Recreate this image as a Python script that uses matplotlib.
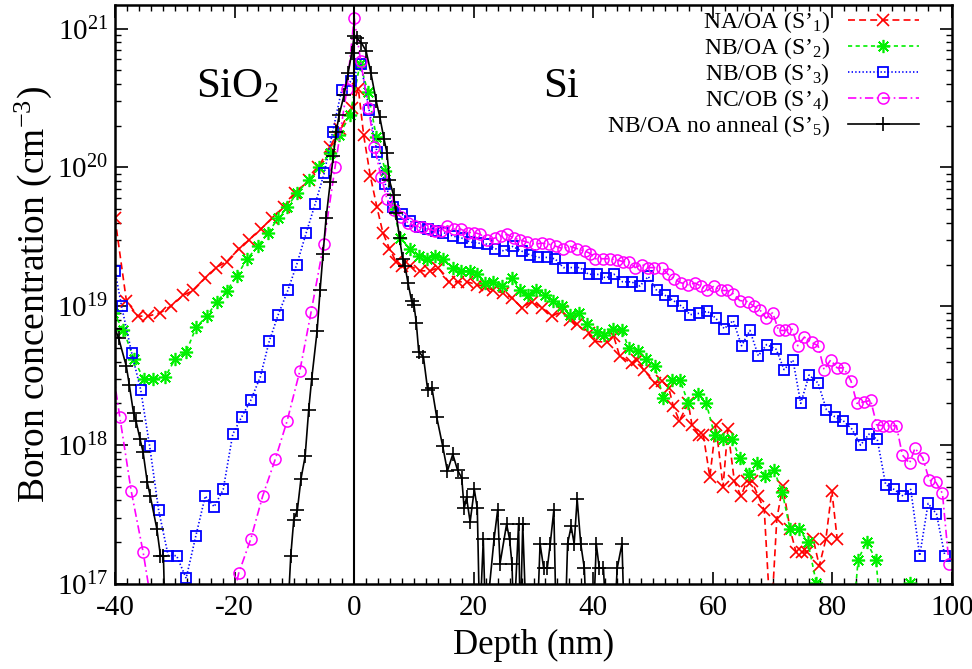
import numpy as np
import matplotlib
matplotlib.use("Agg")
import matplotlib.pyplot as plt
from matplotlib.ticker import LogLocator, MultipleLocator, NullFormatter

plt.rcParams['font.family'] = ['Liberation Serif', 'DejaVu Serif']
plt.rcParams['mathtext.fontset'] = 'custom'
plt.rcParams['mathtext.rm'] = 'Liberation Serif'
plt.rcParams['mathtext.it'] = 'Liberation Serif:italic'
plt.rcParams['mathtext.bf'] = 'Liberation Serif:bold'
plt.rcParams['axes.unicode_minus'] = False
plt.rcParams['lines.scale_dashes'] = False

# (depth nm, boron concentration cm^-3)
na_oa = [(-40.0, 4.3e19), (-38.1, 1.1e19), (-36.2, 8.5e18), (-34.4, 8.5e18), (-32.4, 9.0e18),
         (-30.7, 1.0e19), (-28.6, 1.2e19), (-26.9, 1.3e19), (-24.9, 1.6e19), (-23.1, 1.9e19),
         (-21.3, 2.1e19), (-19.3, 2.6e19), (-17.6, 3.0e19), (-15.6, 3.6e19), (-13.7, 4.3e19),
         (-11.8, 5.2e19), (-9.9, 6.5e19), (-7.6, 8.1e19), (-6.0, 1.0e20), (-4.1, 1.4e20),
         (-2.3, 1.9e20), (-0.4, 2.7e20), (0.7, 3.7e20), (1.6, 1.7e20), (2.7, 8.7e19),
         (3.8, 5.2e19), (4.8, 3.4e19), (5.9, 2.6e19), (7.0, 2.1e19), (8.0, 1.95e19),
         (9.4, 1.95e19), (11.0, 1.8e19), (12.7, 1.8e19), (14.1, 1.9e19), (15.8, 1.5e19),
         (17.4, 1.5e19), (18.9, 1.5e19), (20.6, 1.43e19), (21.9, 1.38e19), (23.3, 1.3e19),
         (24.9, 1.25e19), (26.4, 1.15e19), (28.0, 9.8e18), (29.7, 1.08e19), (31.4, 9.8e18),
         (33.1, 8.5e18), (34.7, 9.2e18), (36.1, 8.0e18), (37.2, 7.4e18), (39.2, 6.4e18),
         (40.3, 5.6e18), (42.3, 5.5e18), (43.4, 6.1e18), (44.4, 4.4e18), (46.4, 3.9e18),
         (47.3, 4.1e18), (48.4, 3.5e18), (50.3, 2.8e18), (51.5, 2.9e18), (52.6, 2.6e18),
         (53.4, 1.9e18), (54.4, 1.5e18), (55.9, 2.0e18), (56.5, 1.4e18), (57.6, 1.18e18),
         (58.4, 1.18e18), (59.5, 5.9e17), (60.5, 1.4e18), (61.7, 5.0e17), (62.5, 1.3e18),
         (63.6, 5.5e17), (64.7, 4.3e17), (65.7, 5.5e17), (66.5, 5.5e17), (67.6, 4.3e17),
         (68.6, 3.4e17), (69.7, 5e16), (70.7, 2.95e17), (71.7, 5.1e17), (72.9, 2.5e17),
         (73.9, 1.7e17), (74.9, 1.7e17), (75.7, 1.7e17), (76.8, 2.1e17), (77.8, 1.35e17),
         (78.9, 2.1e17), (79.9, 4.7e17), (80.8, 2.1e17)]

nb_oa = [(-40.3, 9.0e18), (-38.6, 6.8e18), (-36.9, 4.2e18), (-35.2, 3.0e18), (-33.6, 3.0e18),
         (-31.6, 3.1e18), (-29.9, 4.2e18), (-28.1, 4.7e18), (-26.4, 7.1e18), (-24.6, 8.5e18),
         (-23.0, 1.08e19), (-21.3, 1.29e19), (-19.6, 1.66e19), (-17.9, 2.2e19), (-16.1, 2.7e19),
         (-14.4, 3.4e19), (-12.7, 4.3e19), (-11.2, 5.2e19), (-9.5, 6.6e19), (-7.6, 8.1e19),
         (-5.8, 1.0e20), (-4.0, 1.27e20), (-2.5, 1.7e20), (-0.7, 2.4e20), (1.0, 5.6e20),
         (2.3, 3.5e20), (3.7, 1.67e20), (5.2, 9.5e19), (6.6, 5.0e19), (7.7, 3.1e19),
         (9.3, 2.6e19), (10.8, 2.3e19), (12.2, 2.2e19), (13.5, 2.3e19), (14.9, 2.2e19),
         (16.5, 1.9e19), (17.9, 1.8e19), (19.3, 1.8e19), (20.6, 1.7e19), (21.9, 1.48e19),
         (23.3, 1.5e19), (24.7, 1.4e19), (26.4, 1.6e19), (27.8, 1.3e19), (29.1, 1.2e19),
         (30.4, 1.3e19), (31.9, 1.2e19), (33.3, 1.1e19), (34.7, 1.0e19), (36.1, 8.7e18),
         (37.6, 9.0e18), (39.0, 7.4e18), (40.6, 6.5e18), (41.8, 6.2e18), (43.3, 6.9e18),
         (44.8, 6.8e18), (45.9, 5.0e18), (47.4, 4.8e18), (48.9, 4.2e18), (50.3, 3.7e18),
         (51.7, 2.2e18), (53.1, 2.95e18), (54.5, 2.95e18), (55.9, 2.0e18), (57.5, 2.35e18),
         (58.9, 2.0e18), (60.3, 1.18e18), (61.7, 1.1e18), (63.2, 1.1e18), (64.5, 8.1e17),
         (66.1, 6.2e17), (67.3, 7.4e17), (68.8, 6.0e17), (70.2, 6.6e17), (71.6, 4.6e17),
         (72.9, 2.5e17), (74.4, 2.5e17), (75.9, 2.0e17), (77.3, 1.02e17), (78.7, 3e16),
         (81.5, 3e16), (82.9, 3e16), (84.3, 1.5e17), (85.7, 2.0e17), (87.3, 1.5e17),
         (88.6, 3e16), (91.5, 3e16), (92.9, 1.02e17), (94.3, 3e16), (99.0, 3e16)]

nb_ob = [(-40.0, 1.8e19), (-38.9, 1.0e19), (-37.2, 4.6e18), (-35.7, 2.5e18), (-34.2, 9.8e17),
         (-32.7, 3.4e17), (-31.1, 1.6e17), (-29.7, 1.6e17), (-28.1, 1.1e17), (-26.5, 2.2e17),
         (-24.9, 4.3e17), (-23.4, 3.6e17), (-21.9, 4.8e17), (-20.3, 1.2e18), (-18.8, 1.6e18),
         (-17.3, 2.1e18), (-15.7, 3.1e18), (-14.2, 5.6e18), (-12.7, 8.7e18), (-11.1, 1.3e19),
         (-9.6, 2.0e19), (-8.0, 3.4e19), (-6.5, 5.5e19), (-5.0, 9.1e19), (-3.6, 1.8e20),
         (-2.1, 3.6e20), (-0.5, 4.2e20), (1.1, 5.6e20), (2.5, 2.6e20), (3.8, 1.3e20),
         (5.2, 7.6e19), (6.5, 5.2e19), (8.0, 4.6e19), (9.4, 4.1e19), (11.0, 3.7e19),
         (12.4, 3.6e19), (13.7, 3.5e19), (14.9, 3.4e19), (16.6, 3.2e19), (18.0, 3.1e19),
         (19.4, 2.9e19), (20.8, 2.85e19), (22.2, 2.8e19), (23.6, 2.6e19), (25.1, 2.5e19),
         (26.5, 2.7e19), (28.0, 2.5e19), (29.4, 2.35e19), (30.8, 2.25e19), (32.2, 2.25e19),
         (33.6, 2.2e19), (35.0, 1.9e19), (36.4, 1.9e19), (37.8, 1.9e19), (39.2, 1.7e19),
         (40.7, 1.7e19), (42.1, 1.6e19), (43.5, 1.7e19), (44.9, 1.5e19), (46.4, 1.5e19),
         (47.8, 1.4e19), (49.2, 1.64e19), (50.6, 1.3e19), (52.0, 1.2e19), (53.4, 1.1e19),
         (54.8, 1.0e19), (56.2, 8.7e18), (57.7, 8.9e18), (59.1, 9.2e18), (60.5, 8.2e18),
         (61.9, 6.9e18), (63.4, 7.9e18), (64.8, 5.2e18), (66.2, 6.7e18), (67.6, 4.4e18),
         (69.0, 5.3e18), (70.6, 4.9e18), (71.9, 3.5e18), (73.4, 4.1e18), (74.7, 2.0e18),
         (76.1, 3.2e18), (77.6, 2.8e18), (79.0, 1.8e18), (80.4, 1.6e18), (81.8, 1.5e18),
         (83.3, 1.3e18), (84.7, 1.0e18), (86.1, 1.2e18), (87.5, 1.1e18), (88.9, 5.2e17),
         (90.3, 4.8e17), (91.8, 4.3e17), (93.1, 4.8e17), (94.6, 1.6e17), (96.0, 3.8e17),
         (97.4, 3.2e17), (98.8, 1.6e17)]

nc_ob = [(-41.1, 5.6e18), (-39.2, 1.6e18), (-37.3, 4.7e17), (-35.3, 1.7e17), (-33.3, 5e16),
         (-21.3, 5e16), (-19.3, 1.2e17), (-17.3, 2.1e17), (-15.3, 4.3e17), (-13.2, 7.9e17),
         (-11.2, 1.5e18), (-9.1, 3.4e18), (-7.2, 9.1e18), (-5.1, 2.8e19), (-3.2, 1.0e20),
         (-1.2, 3.7e20), (0.0, 1.2e21), (1.1, 5.8e20), (2.4, 2.7e20), (3.4, 1.4e20),
         (4.5, 8.6e19), (5.5, 5.9e19), (6.6, 4.9e19), (7.8, 4.4e19), (9.0, 4.0e19),
         (10.2, 3.8e19), (11.4, 3.7e19), (12.5, 3.6e19), (13.5, 3.5e19), (14.6, 3.5e19),
         (15.6, 3.8e19), (16.7, 3.6e19), (17.8, 3.6e19), (19.0, 3.4e19), (20.1, 3.4e19),
         (21.1, 3.3e19), (22.3, 3.0e19), (23.5, 3.1e19), (24.6, 3.2e19), (25.6, 3.3e19),
         (26.7, 3.1e19), (27.8, 3.0e19), (28.9, 2.9e19), (30.2, 2.8e19), (31.4, 2.85e19),
         (32.6, 2.8e19), (33.8, 2.7e19), (34.9, 2.6e19), (36.1, 2.7e19), (37.3, 2.6e19),
         (38.6, 2.5e19), (39.5, 2.4e19), (40.3, 2.2e19), (41.6, 2.2e19), (42.8, 2.2e19),
         (43.9, 2.16e19), (45.0, 2.1e19), (45.9, 2.1e19), (47.0, 1.9e19), (48.1, 2.0e19),
         (49.2, 1.9e19), (50.2, 1.9e19), (51.5, 1.9e19), (52.5, 1.7e19), (53.5, 1.58e19),
         (54.6, 1.48e19), (55.9, 1.43e19), (57.0, 1.47e19), (58.0, 1.4e19), (59.1, 1.3e19),
         (60.2, 1.4e19), (61.3, 1.3e19), (62.4, 1.3e19), (63.4, 1.23e19), (64.5, 1.1e19),
         (65.8, 1.08e19), (66.9, 1.0e19), (67.9, 9.4e18), (68.9, 8.2e18), (70.0, 9.0e18),
         (71.0, 6.7e18), (72.1, 6.7e18), (73.2, 6.9e18), (74.2, 5.2e18), (75.3, 6.0e18),
         (76.5, 5.5e18), (77.6, 5.2e18), (78.6, 3.5e18), (79.7, 4.1e18), (80.8, 3.6e18),
         (81.9, 3.6e18), (83.1, 2.9e18), (84.1, 2.0e18), (85.3, 2.05e18), (86.4, 2.1e18),
         (87.4, 1.4e18), (88.5, 1.38e18), (89.5, 1.38e18), (90.7, 1.38e18), (91.7, 8.5e17),
         (92.9, 7.4e17), (93.8, 9.5e17), (95.1, 8.1e17), (96.2, 5.6e17), (97.3, 5.4e17),
         (98.4, 4.5e17), (99.5, 1.4e17)]

no_anneal = [(-40.0, 6.9e18), (-39.4, 5.9e18), (-38.1, 3.7e18), (-37.6, 2.7e18), (-36.9, 1.7e18),
             (-36.5, 1.5e18), (-35.8, 1.1e18), (-35.3, 8.9e17), (-34.6, 5.4e17), (-34.1, 4.3e17),
             (-33.0, 2.5e17), (-32.4, 1.6e17), (-31.9, 1.6e17), (-31.6, 5e16), (-11.2, 5e16),
             (-10.6, 1.6e17), (-10.1, 2.9e17), (-9.5, 3.4e17), (-8.9, 5.7e17), (-8.2, 8.3e17),
             (-7.6, 1.8e18), (-7.1, 3.0e18), (-6.2, 6.6e18), (-5.7, 1.3e19), (-5.2, 2.4e19),
             (-4.7, 4.3e19), (-4.0, 7.8e19), (-3.5, 1.2e20), (-3.0, 1.8e20), (-2.5, 2.4e20),
             (-1.7, 3.3e20), (-1.0, 4.8e20), (-0.4, 6.7e20), (0.0, 8.8e20), (0.5, 8.5e20),
             (1.2, 7.9e20), (2.0, 6.9e20), (2.8, 4.8e20), (3.7, 3.0e20), (4.3, 2.3e20),
             (5.0, 1.6e20), (5.5, 1.27e20), (5.9, 8.1e19), (6.6, 6.3e19), (7.0, 4.7e19),
             (7.6, 3.1e19), (8.1, 2.2e19), (8.5, 1.95e19), (9.0, 1.48e19), (9.6, 1.1e19),
             (10.0, 1.03e19), (10.4, 7.6e18), (10.8, 4.7e18), (11.6, 4.3e18), (12.3, 2.5e18),
             (13.0, 2.6e18), (13.8, 1.6e18), (14.8, 9.9e17), (15.6, 6.5e17), (16.5, 8.6e17),
             (17.3, 6.6e17), (18.0, 5.8e17), (18.4, 3.5e17), (18.8, 4.2e17), (19.4, 2.8e17),
             (20.1, 4.8e17), (20.6, 3.5e17), (21.0, 5e16), (21.6, 2.1e17), (22.0, 5e16),
             (23.4, 2.1e17), (24.0, 3.4e17), (24.4, 1.4e17), (25.5, 2.7e17), (26.0, 2.1e17),
             (26.4, 1.4e17), (26.7, 5e16), (27.5, 2.7e17), (27.8, 5e16), (28.2, 2.7e17),
             (28.8, 5e16), (30.6, 5e16), (31.1, 1.95e17), (31.7, 1.3e17), (32.3, 1.3e17),
             (32.8, 1.95e17), (33.4, 3.4e17), (33.8, 5e16), (35.3, 5e16), (35.7, 1.95e17),
             (36.3, 2.6e17), (36.8, 1.95e17), (37.3, 4.1e17), (37.9, 1.95e17), (38.5, 1.3e17),
             (38.9, 5e16), (40.0, 5e16), (40.5, 1.95e17), (41.0, 1.3e17), (41.7, 1.3e17),
             (42.2, 5e16), (43.5, 5e16), (44.0, 1.3e17), (44.8, 1.95e17), (45.2, 5e16)]

labels = ["NA/OA (S\u2019$_1$)", "NB/OA (S\u2019$_2$)", "NB/OB (S\u2019$_3$)",
          "NC/OB (S\u2019$_4$)", "NB/OA no anneal (S\u2019$_5$)"]

fig = plt.figure(figsize=(9.72, 6.69), dpi=100)
ax = fig.add_axes([115 / 972, 1 - 584 / 669, (952 - 115) / 972, (584 - 5) / 669])

series = [
    (na_oa, '#ff0000', (5, 3), dict(marker='x', ms=8.5, mew=1.2, mfc='none')),
    (nb_oa, '#00f000', (3, 2.5), dict(marker=(8, 2, 0), ms=9.5, mew=1.2)),
    (nb_ob, '#0000ff', (1, 1.6), dict(marker='s', ms=7.5, mew=1.3, mfc='none')),
    (nc_ob, '#ff00ff', (6, 2.5, 1.2, 2.5), dict(marker='o', ms=8, mew=1.1, mfc='none')),
    (no_anneal, '#000000', None, dict(marker='+', ms=10, mew=1.2)),
]

for (data, color, dash, mk), lab in zip(series, labels):
    d = np.array(data)
    line, = ax.plot(d[:, 0], d[:, 1], color=color, lw=1.2, label=lab, **mk)
    if dash is not None:
        line.set_dashes(dash)

ax.axvline(0, color='black', lw=1.5)

ax.set_yscale('log')
ax.set_xlim(-40, 100)
ax.set_ylim(1e17, 10 ** 21.17)

ax.xaxis.set_major_locator(MultipleLocator(20))
ax.xaxis.set_minor_locator(MultipleLocator(2))
ax.yaxis.set_major_locator(LogLocator(base=10))
ax.yaxis.set_minor_locator(LogLocator(base=10, subs=np.arange(2, 10)))
ax.yaxis.set_minor_formatter(NullFormatter())
ax.tick_params(which='both', direction='in', top=True, right=True, labelsize=21)
ax.tick_params(which='major', length=9, width=1.2)
ax.tick_params(which='minor', length=4.5, width=1.0)
ax.tick_params(axis='x', pad=8)
ax.tick_params(axis='y', pad=5)
for s in ax.spines.values():
    s.set_linewidth(1.8)

ax.set_xlabel('Depth (nm)', fontsize=25, labelpad=6)
ax.set_ylabel('Boron concentration (cm$^{-3}$)', fontsize=27, labelpad=2)

ax.text(-26.5, 3.2e20, 'SiO$_2$', fontsize=31, ha='left', va='baseline')
ax.text(31.6, 3.2e20, 'Si', fontsize=31, ha='left', va='baseline')

ax.legend(loc='upper right', bbox_to_anchor=(0.963, 0.997), frameon=False, markerfirst=False,
          numpoints=1, handlelength=3.0, handletextpad=0.75, labelspacing=0.0,
          borderpad=0.1, borderaxespad=0.0, fontsize=17)

fig.savefig('out.png', dpi=100)
